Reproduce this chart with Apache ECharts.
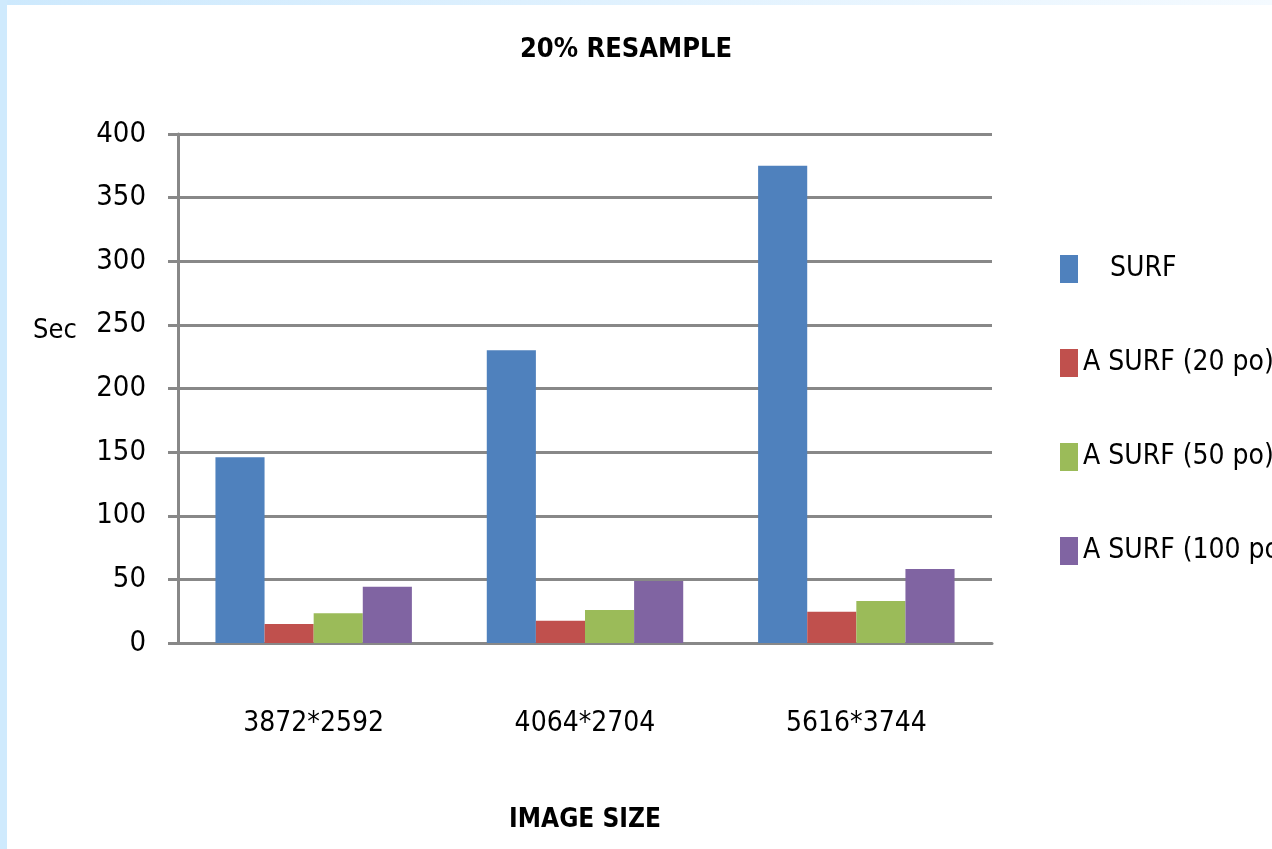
<!DOCTYPE html>
<html>
<head>
<meta charset="utf-8">
<script src="https://cdn.jsdelivr.net/npm/echarts@6/dist/echarts.min.js"></script>
<style>
html,body{margin:0;padding:0;background:#fff;}
#c{width:1272px;height:849px;}
</style>
</head>
<body>
<div id="c"></div>
<script>
const categories = ['3872*2592', '4064*2704', '5616*3744'];
const seriesNames = ['SURF', 'A SURF (20 po)', 'A SURF (50 po)', 'A SURF (100 po)'];
const surf = [146, 230, 375];
const asurf20 = [15, 17.5, 24.5];
const asurf50 = [23.3, 26, 33];
const asurf100 = [44.3, 48.7, 58.2];
const yTicks = [0, 50, 100, 150, 200, 250, 300, 350, 400];
const colors = ['#4f81bd', '#c0504d', '#9bbb59', '#8064a2'];

const NARROW = '"Liberation Sans Narrow", "DejaVu Sans Condensed", "Liberation Sans", sans-serif';
const chart = echarts.init(document.getElementById('c'));
const values = [surf, asurf20, asurf50, asurf100];

chart.setOption({
  backgroundColor: '#ffffff',
  animation: false,
  title: {
    text: '20% RESAMPLE',
    left: 621, top: 31, textAlign: 'center',
    textStyle: {fontFamily: NARROW, fontWeight: 'bold', fontSize: 27, color: '#000'}
  },
  graphic: [
    {type: 'rect', left: 0, top: 0, z: 0, shape: {width: 1272, height: 5},
     style: {fill: new echarts.graphic.LinearGradient(0, 0, 1, 0, [{offset: 0, color: '#cde9fd'}, {offset: 1, color: '#f4faff'}])}},
    {type: 'rect', left: 0, top: 0, z: 0, shape: {width: 7, height: 849}, style: {fill: '#cfeafd'}},
    {type: 'text', left: 33, top: 317, z: 10,
     style: {text: 'Sec', fontFamily: NARROW, fontSize: 27, fill: '#000'}}
  ],
  legend: {
    orient: 'vertical',
    left: 1055, top: 250,
    itemWidth: 18, itemHeight: 28, itemGap: 66,
    icon: 'rect',
    data: seriesNames,
    formatter: function (n) { return n === 'SURF' ? '{s|SURF}' : n; },
    textStyle: {fontFamily: NARROW, fontSize: 28, lineHeight: 28, color: '#000',
      rich: {s: {fontFamily: NARROW, fontSize: 28, lineHeight: 28, color: '#000', padding: [0, 0, 0, 27]}}},
    itemStyle: {borderWidth: 0}
  },
  grid: {left: 178, right: 280, top: 134, bottom: 206},
  xAxis: {
    type: 'category',
    data: categories,
    name: 'IMAGE SIZE',
    nameLocation: 'middle',
    nameGap: 164,
    nameTextStyle: {fontFamily: NARROW, fontWeight: 'bold', fontSize: 26, color: '#000'},
    axisLine: {lineStyle: {color: '#888888', width: 3}},
    axisTick: {show: false},
    axisLabel: {fontFamily: NARROW, fontSize: 28, color: '#000', margin: 67}
  },
  yAxis: {
    type: 'value',
    min: 0, max: 400, interval: 50,
    axisLine: {show: true, lineStyle: {color: '#888888', width: 3}},
    axisTick: {show: true, length: 10, lineStyle: {color: '#888888', width: 3}},
    splitLine: {lineStyle: {color: '#888888', width: 3}},
    axisLabel: {fontFamily: NARROW, fontSize: 29, color: '#000', margin: 32,
      formatter: function (v) { return yTicks.indexOf(v) >= 0 ? String(v) : ''; }}
  },
  series: seriesNames.map(function (n, i) {
    return {
      name: n, type: 'bar', data: values[i],
      barGap: '0%', barCategoryGap: '27.6%',
      itemStyle: {color: colors[i]}
    };
  })
});
</script>
</body>
</html>
